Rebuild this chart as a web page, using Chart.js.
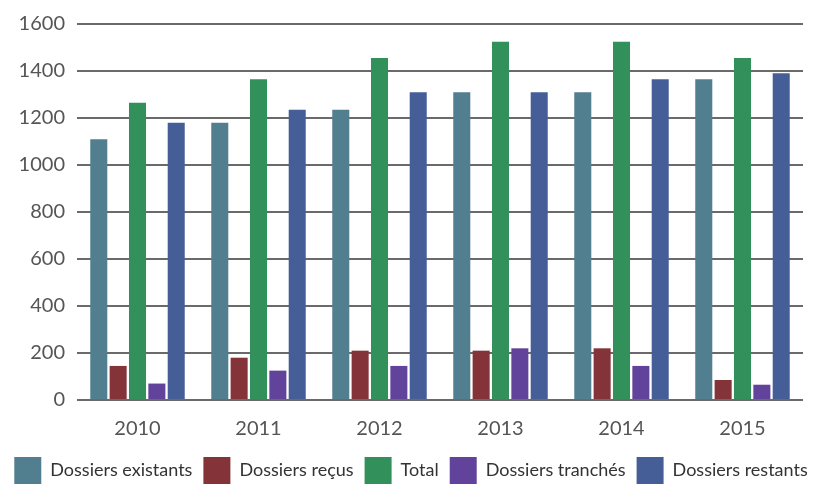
<!DOCTYPE html>
<html lang="fr">
<head>
<meta charset="utf-8">
<title>Dossiers 2010-2015</title>
<script src="https://cdn.jsdelivr.net/npm/chart.js@4/dist/chart.umd.min.js"></script>
<style>
html,body{margin:0;padding:0;background:#fff;}
canvas{display:block;}
</style>
</head>
<body>
<canvas id="dossiersChart" width="822" height="484"></canvas>
<script>
/* ===============================
        Données
================================ */

const annees = ["2010","2011","2012","2013","2014","2015"];

const existants = [1110,1180,1235,1310,1310,1365];
const recus     = [145,180,210,210,220,85];
const total     = [1265,1365,1455,1525,1525,1455];
const tranches  = [70,125,145,220,145,65];
const restants  = [1180,1235,1310,1310,1365,1390];

const yTicks = [0,200,400,600,800,1000,1200,1400,1600];


/* ===============================
        Dossiers Chart
================================ */

const textColor = "#555555";

function serie(label, data, color){
  return {
    label: label,
    data: data,
    backgroundColor: color,
    borderWidth: 0,
    categoryPercentage: 0.8,
    barPercentage: 0.88
  };
}

const dossiersCanvas = document.getElementById("dossiersChart");

new Chart(dossiersCanvas, {

  type: "bar",

  data: {
    labels: annees,
    datasets: [
      serie("Dossiers existants", existants, "#527F8F"),
      serie("Dossiers reçus", recus, "#843439"),
      serie("Total", total, "#32905B"),
      serie("Dossiers tranchés", tranches, "#62439B"),
      serie("Dossiers restants", restants, "#465E98")
    ]
  },

  options: {
    responsive: false,
    animation: false,
    layout: {
      // legend squares run to the bottom edge
      padding: {left: 0, right: 0, top: 12, bottom: -10}
    },

    plugins: {
      tooltip: {enabled: false},
      legend: {
        position: "bottom",
        labels: {
          color: "#333333",
          font: {family: "Lato, sans-serif", size: 18},
          boxWidth: 27,
          boxHeight: 27,
          padding: 11
        }
      }
    },

    scales: {
      x: {
        grid: {display: false},
        border: {display: false},
        ticks: {
          color: textColor,
          font: {family: "Lato, sans-serif", size: 20},
          padding: 9
        },
        afterFit: (scale) => {
          scale.height = 46;
        }
      },
      y: {
        min: 0,
        max: 1600,
        afterBuildTicks: (scale) => {
          scale.ticks = yTicks.map(v => ({value: v}));
        },
        afterFit: (scale) => {
          scale.width = 77;
        },
        grid: {
          color: "#6a6a6a",
          lineWidth: 2,
          drawTicks: false
        },
        border: {display: false},
        ticks: {
          color: textColor,
          font: {family: "Lato, sans-serif", size: 20},
          padding: 12,
          callback: (v) => String(v)
        }
      },
      // empty right margin so the legend keeps the full width
      marge: {
        type: "linear",
        position: "right",
        grid: {display: false},
        border: {display: false},
        ticks: {display: false},
        afterFit: (scale) => {
          scale.width = 19;
        }
      }
    }
  }

});
</script>
</body>
</html>
